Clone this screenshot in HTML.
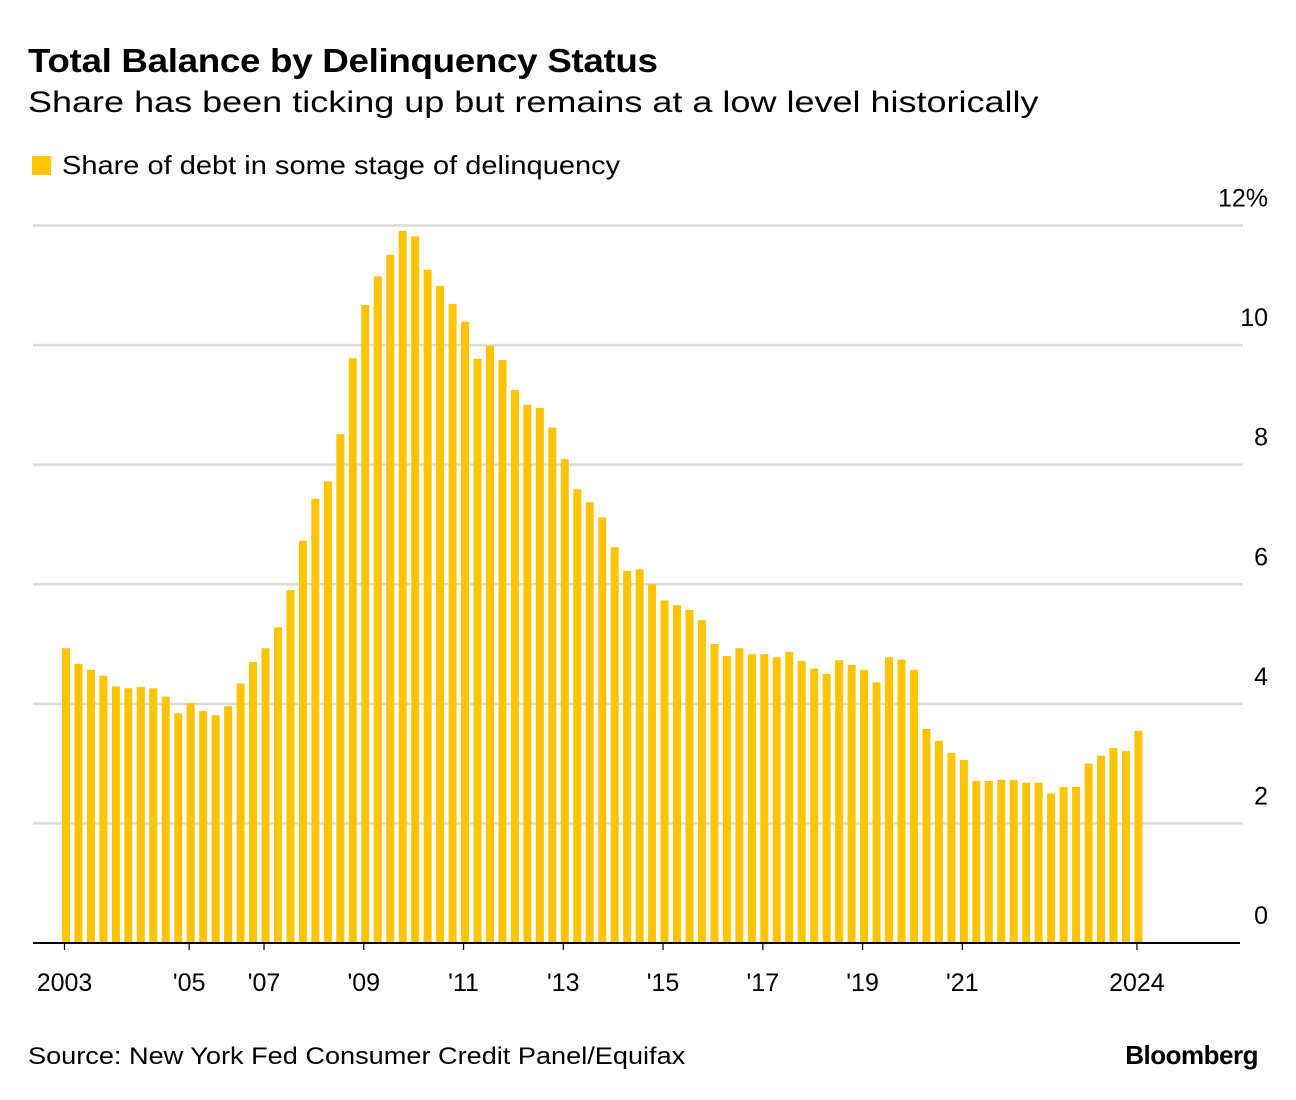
<!DOCTYPE html>
<html><head><meta charset="utf-8"><style>
body{margin:0;background:#fff;width:1296px;height:1100px;overflow:hidden;font-family:"Liberation Sans",Arial,sans-serif;color:#000}
#title{position:absolute;left:28px;top:42px;font-size:33px;font-weight:bold;letter-spacing:-0.3px;transform:scaleX(1.115);transform-origin:left top;white-space:nowrap}
#subtitle{position:absolute;left:28px;top:86px;font-size:30px;transform:scaleX(1.2);transform-origin:left top;white-space:nowrap}
#legend{position:absolute;left:32px;top:150px;font-size:26px;display:flex;align-items:center;white-space:nowrap}
#legend .sw{width:19px;height:19px;background:#ffc400;margin-right:11px}
#legend span{display:inline-block;transform:scaleX(1.116);transform-origin:left center}
#source{position:absolute;left:28px;top:1043px;font-size:24px;transform:scaleX(1.13);transform-origin:left top;white-space:nowrap}
#brand{position:absolute;right:38px;top:1040px;font-size:26px;font-weight:bold;letter-spacing:-0.5px}
svg{position:absolute;left:0;top:0}
</style></head><body>
<div id="title">Total Balance by Delinquency Status</div>
<div id="subtitle">Share has been ticking up but remains at a low level historically</div>
<div id="legend"><div class="sw"></div><span>Share of debt in some stage of delinquency</span></div>
<svg id="chart" width="1296" height="1100"></svg>
<div id="source">Source: New York Fed Consumer Credit Panel/Equifax</div>
<div id="brand">Bloomberg</div>
<script>
const values = [4.93,4.67,4.57,4.47,4.29,4.26,4.28,4.26,4.12,3.84,4.01,3.88,3.81,3.96,4.34,4.70,4.93,5.28,5.90,6.73,7.43,7.72,8.51,9.78,10.67,11.15,11.51,11.91,11.82,11.26,10.99,10.69,10.39,9.77,9.99,9.75,9.25,9.00,8.95,8.62,8.09,7.59,7.37,7.12,6.62,6.22,6.25,6.00,5.73,5.65,5.57,5.40,5.00,4.80,4.93,4.83,4.83,4.78,4.87,4.72,4.59,4.50,4.73,4.65,4.57,4.36,4.78,4.74,4.57,3.58,3.38,3.18,3.06,2.71,2.71,2.73,2.73,2.68,2.68,2.50,2.61,2.61,3.00,3.13,3.26,3.21,3.55];
const yTicks = [0,2,4,6,8,10,12];
const xTickLabels = ["2003","'05","'07","'09","'11","'13","'15","'17","'19","'21","2024"];
const xTickIndex = [0,10,16,24,32,40,48,56,64,72,86];

const svg = document.getElementById('chart');
const NS = 'http://www.w3.org/2000/svg';
const x0 = 66, step = 12.47, barW = 8;
const xScale = i => x0 + i * step;
const yBase = 943, yTop = 225.5;
const yScale = v => yBase - (v / 12) * (yBase - yTop);
function mk(tag, attrs){const e=document.createElementNS(NS,tag);for(const k in attrs)e.setAttribute(k,attrs[k]);svg.appendChild(e);return e;}

yTicks.forEach(t => {
  if (t > 0) {
    const g = mk('line',{x1:33,x2:1243,y1:yScale(t),y2:yScale(t),stroke:'#dcdcdc','stroke-width':2.5});
    
    
  }
  const lb = mk('text',{x:1268,y:yScale(t)-19,'text-anchor':'end','font-size':25,'font-family':'Liberation Sans, sans-serif'});
  lb.textContent = t === 12 ? '12%' : String(t);
  
  
});

values.forEach((v, i) => {
  const r = mk('rect',{x:xScale(i)-barW/2,y:yScale(v),width:barW,height:yBase-yScale(v),fill:'#ffc400'});
  
  
});

const ax = mk('line',{x1:33,x2:1240,y1:yBase,y2:yBase,stroke:'#000','stroke-width':2});



xTickLabels.forEach((lab, k) => {
  const x = xScale(xTickIndex[k]) - 1.5;
  const tk = mk('line',{x1:x,x2:x,y1:yBase,y2:yBase+7,stroke:'#000','stroke-width':1.2});
  
  
  const t = mk('text',{x:x,y:991,'text-anchor':'middle','font-size':25,'font-family':'Liberation Sans, sans-serif'});
  t.textContent = lab;
  
  
});
</script>
</body></html>
